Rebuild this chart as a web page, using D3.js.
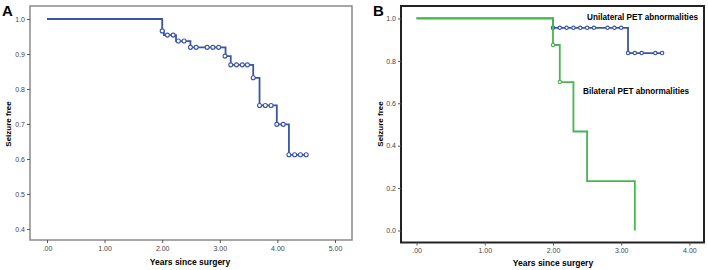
<!DOCTYPE html>
<html>
<head>
<meta charset="utf-8">
<script src="https://cdn.jsdelivr.net/npm/d3@7"></script>
<style>
  body { margin: 0; background: #fff; }
  svg text { font-family: "Liberation Sans", Arial, sans-serif; }
</style>
</head>
<body>
<svg id="chart" width="708" height="270"></svg>
<script>
/* Panel A: all patients */
var aSteps = [[0, 1.0], [2.0, 0.966], [2.03, 0.954], [2.24, 0.937], [2.49, 0.919], [3.10, 0.894],
              [3.19, 0.869], [3.58, 0.832], [3.69, 0.753], [3.99, 0.699], [4.20, 0.612], [4.50, 0.612]];
var aCensored = [[2.0, 0.966], [2.09, 0.954], [2.19, 0.954], [2.28, 0.937], [2.38, 0.937],
                 [2.49, 0.919], [2.59, 0.919], [2.78, 0.919], [2.88, 0.919], [2.98, 0.919],
                 [3.09, 0.894], [3.19, 0.869], [3.29, 0.869], [3.39, 0.869], [3.48, 0.869],
                 [3.58, 0.832], [3.69, 0.753], [3.79, 0.753], [3.89, 0.753], [3.99, 0.699],
                 [4.10, 0.699], [4.20, 0.612], [4.30, 0.612], [4.40, 0.612], [4.50, 0.612]];
var aXTicks = [0, 1, 2, 3, 4, 5];
var aYTicks = [0.4, 0.5, 0.6, 0.7, 0.8, 0.9, 1.0];

/* Panel B: unilateral vs bilateral PET abnormalities */
var uniSteps = [[0, 1.0], [2.0, 0.956], [3.10, 0.837], [3.60, 0.837]];
var uniCensored = [[2.0, 0.956], [2.10, 0.956], [2.20, 0.956], [2.30, 0.956], [2.40, 0.956],
                   [2.50, 0.956], [2.60, 0.956], [2.80, 0.956], [2.90, 0.956], [3.00, 0.956],
                   [3.10, 0.837], [3.20, 0.837], [3.30, 0.837], [3.50, 0.837], [3.60, 0.837]];
var biSteps = [[0, 1.0], [2.0, 0.875], [2.10, 0.70], [2.30, 0.467], [2.50, 0.233], [3.20, 0.0]];
var biCensored = [[2.0, 0.875], [2.10, 0.70]];
var bXTicks = [0, 1, 2, 3, 4];
var bYTicks = [0.0, 0.2, 0.4, 0.6, 0.8, 1.0];

var blue = "#3a55a6";
var green = "#44b84c";

var svg = d3.select("#chart");
var fmtX = function (d) { return d === 0 ? ".00" : d3.format(".2f")(d); };
var fmtY = d3.format(".1f");

function panel(opts) {
    var x = d3.scaleLinear().domain(opts.xDomain).range([opts.left, opts.right]);
    var y = d3.scaleLinear().domain(opts.yDomain).range([opts.bottom, opts.top]);
    var g = svg.append("g");

    /* frame */
    g.append("rect")
        .attr("x", opts.left).attr("y", opts.top)
        .attr("width", opts.right - opts.left).attr("height", opts.bottom - opts.top)
        .attr("fill", "#fff")
        .attr("stroke", opts.frameColor)
        .attr("stroke-width", opts.frameWidth);

    /* axes */
    var xa = g.append("g")
        .attr("transform", "translate(0," + opts.bottom + ")")
        .call(d3.axisBottom(x).tickValues(opts.xTicks).tickFormat(fmtX).tickSize(3).tickPadding(3));
    var ya = g.append("g")
        .attr("transform", "translate(" + opts.left + ",0)")
        .call(d3.axisLeft(y).tickValues(opts.yTicks).tickFormat(fmtY).tickSize(3).tickPadding(2));
    [xa, ya].forEach(function (a) {
        a.select(".domain").remove();
        a.selectAll(".tick line").attr("stroke", "#555");
        a.selectAll(".tick text").attr("fill", "#444").style("font-size", "7px");
    });

    /* titles */
    g.append("text")
        .attr("x", opts.xTitleX).attr("y", opts.xTitleY)
        .attr("text-anchor", "middle")
        .style("font-size", "8.5px").style("font-weight", "bold")
        .text("Years since surgery");
    g.append("text")
        .attr("transform", "translate(" + opts.yTitleX + "," + opts.yTitleY + ") rotate(-90)")
        .attr("text-anchor", "middle")
        .style("font-size", "8px").style("font-weight", "bold")
        .text("Seizure free");
    g.append("text")
        .attr("x", opts.labelX).attr("y", 16)
        .style("font-size", "15px").style("font-weight", "bold")
        .text(opts.label);

    var line = d3.line()
        .x(function (d) { return x(d[0]); })
        .y(function (d) { return y(d[1]); })
        .curve(d3.curveStepAfter);

    opts.series.forEach(function (s) {
        g.append("path")
            .datum(s.steps)
            .attr("fill", "none")
            .attr("stroke", s.color)
            .attr("stroke-width", 1.8)
            .attr("d", line);
        g.selectAll(null)
            .data(s.censored)
            .join("circle")
            .attr("cx", function (d) { return x(d[0]); })
            .attr("cy", function (d) { return y(d[1]); })
            .attr("r", s.r)
            .attr("fill", "#fff")
            .attr("stroke", s.color)
            .attr("stroke-width", 1.1);
    });
    return { x: x, y: y, g: g };
}

panel({
    left: 30, right: 352, top: 6, bottom: 240,
    xDomain: [-0.295, 5.295], yDomain: [0.3686, 1.0371],
    xTicks: aXTicks, yTicks: aYTicks,
    frameColor: "#8a8a8a", frameWidth: 1.5,
    xTitleX: 190, xTitleY: 265, yTitleX: 11, yTitleY: 124,
    label: "A", labelX: 2,
    series: [{ steps: aSteps, censored: aCensored, color: blue, r: 2 }]
});

var pb = panel({
    left: 401, right: 704, top: 6, bottom: 242.5,
    xDomain: [-0.228, 4.214], yDomain: [-0.0565, 1.0588],
    xTicks: bXTicks, yTicks: bYTicks,
    frameColor: "#222", frameWidth: 2,
    xTitleX: 553, xTitleY: 266, yTitleX: 383, yTitleY: 124,
    label: "B", labelX: 373,
    series: [
        { steps: uniSteps, censored: uniCensored, color: blue, r: 1.7 },
        { steps: biSteps, censored: biCensored, color: green, r: 1.7 }
    ]
});

pb.g.append("text")
    .attr("x", 698).attr("y", 20).attr("text-anchor", "end")
    .style("font-size", "8.2px").style("font-weight", "bold")
    .text("Unilateral PET abnormalities");
pb.g.append("text")
    .attr("x", 583).attr("y", 94)
    .style("font-size", "8.2px").style("font-weight", "bold")
    .text("Bilateral PET abnormalities");
</script>
</body>
</html>
